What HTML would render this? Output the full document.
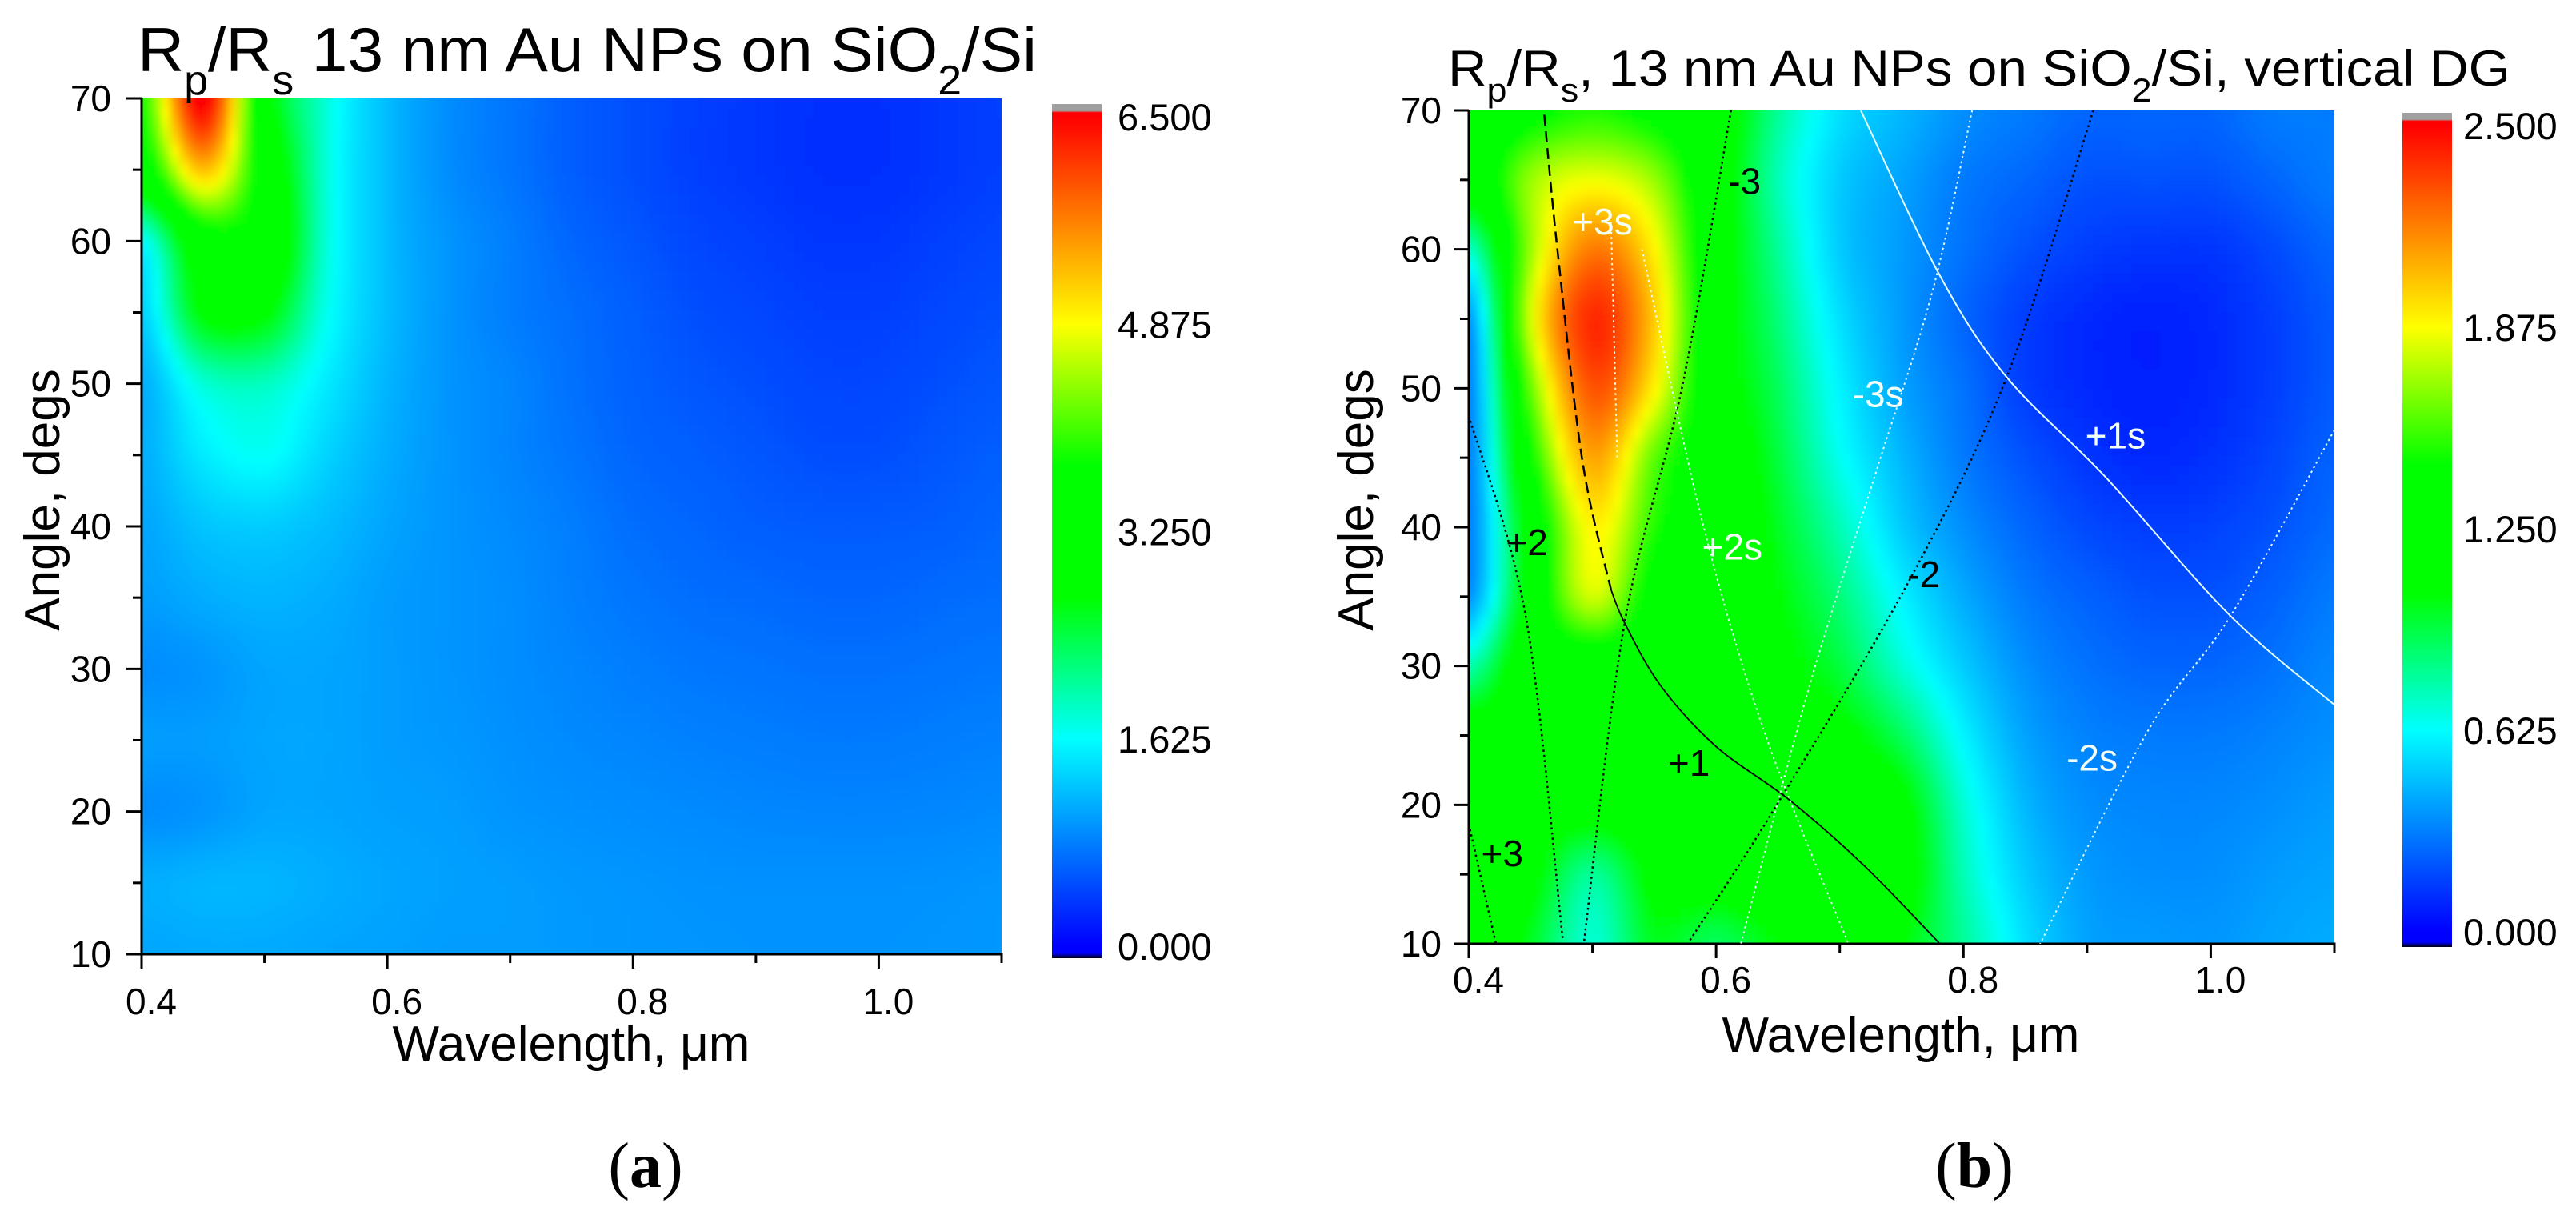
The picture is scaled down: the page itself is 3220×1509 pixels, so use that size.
<!DOCTYPE html>
<html><head><meta charset="utf-8">
<style>
html,body{margin:0;padding:0;background:#fff;}
svg{display:block;font-family:"Liberation Sans",Arial,sans-serif;}
</style></head>
<body>
<svg id="root" width="3220" height="1509" viewBox="0 0 3220 1509" xmlns="http://www.w3.org/2000/svg">
<defs>
<filter id="blurA" filterUnits="userSpaceOnUse" x="-200" y="-200" width="3600" height="1900"><feGaussianBlur stdDeviation="5"/></filter>
<filter id="blurB" filterUnits="userSpaceOnUse" x="-200" y="-200" width="3600" height="1900"><feGaussianBlur stdDeviation="5"/></filter>
<clipPath id="clipA"><rect x="177" y="123" width="1075" height="1070"/></clipPath>
<clipPath id="clipB"><rect x="1836" y="138" width="1082" height="1042"/></clipPath>
</defs>
</svg>
<script>
// ---------- data ----------
const wavelengths = [0.40,0.45,0.50,0.55,0.60,0.65,0.70,0.75,0.80,0.85,0.90,0.95,1.00,1.05,1.10];
const angles = [70,65,60,55,50,45,40,35,30,25,20,15,10];
const valuesA = [
[3.8,6.6,3.1,1.8,1.2,0.9,0.75,0.6,0.5,0.4,0.35,0.3,0.3,0.35,0.4],
[3.3,5.3,3.4,1.8,1.2,0.9,0.75,0.6,0.5,0.4,0.35,0.3,0.3,0.35,0.4],
[1.6,3.4,3.4,1.8,1.2,0.95,0.8,0.65,0.55,0.45,0.4,0.35,0.35,0.4,0.45],
[1.3,2.8,2.8,1.7,1.2,0.95,0.8,0.7,0.6,0.5,0.45,0.4,0.4,0.45,0.5],
[1.1,1.8,1.9,1.5,1.15,0.95,0.85,0.72,0.62,0.55,0.5,0.45,0.45,0.5,0.55],
[1.1,1.5,1.65,1.35,1.1,0.95,0.85,0.75,0.65,0.6,0.55,0.5,0.5,0.55,0.6],
[1.05,1.25,1.3,1.2,1.05,0.95,0.88,0.8,0.7,0.65,0.6,0.58,0.58,0.6,0.65],
[1.0,1.1,1.15,1.1,1.0,0.95,0.9,0.82,0.75,0.7,0.68,0.65,0.65,0.68,0.7],
[0.9,0.95,1.05,1.05,1.0,0.95,0.9,0.85,0.8,0.76,0.74,0.72,0.72,0.74,0.76],
[1.0,1.0,1.05,1.05,1.0,0.97,0.92,0.88,0.85,0.82,0.8,0.78,0.78,0.8,0.82],
[0.9,0.95,1.05,1.05,1.02,1.0,0.95,0.92,0.9,0.88,0.86,0.85,0.85,0.86,0.88],
[1.1,1.15,1.15,1.1,1.05,1.02,1.0,0.97,0.95,0.93,0.92,0.92,0.92,0.93,0.95],
[1.05,1.08,1.08,1.05,1.03,1.0,1.0,0.98,0.96,0.95,0.94,0.94,0.94,0.95,0.96]
];
const valuesB = [
[1.2,1.4,1.5,1.4,1.2,0.8,0.55,0.45,0.35,0.3,0.25,0.25,0.25,0.3,0.3],
[1.2,1.7,1.85,1.7,1.2,0.75,0.5,0.4,0.3,0.25,0.2,0.2,0.2,0.25,0.3],
[0.7,1.7,2.2,1.9,1.2,0.8,0.5,0.38,0.28,0.2,0.15,0.13,0.13,0.18,0.25],
[0.35,1.8,2.4,2.0,1.2,0.85,0.55,0.38,0.25,0.15,0.1,0.08,0.1,0.15,0.22],
[0.3,1.6,2.3,1.9,1.2,0.9,0.6,0.4,0.28,0.15,0.1,0.08,0.1,0.15,0.22],
[0.3,1.4,2.1,1.6,1.25,0.95,0.65,0.45,0.3,0.2,0.13,0.1,0.12,0.17,0.24],
[0.3,1.2,1.9,1.5,1.25,1.0,0.75,0.5,0.35,0.25,0.18,0.15,0.16,0.2,0.26],
[0.35,1.2,1.8,1.35,1.25,1.05,0.85,0.6,0.42,0.3,0.24,0.2,0.2,0.24,0.3],
[0.75,1.25,1.3,1.3,1.25,1.1,0.95,0.7,0.5,0.35,0.28,0.25,0.25,0.28,0.33],
[1.15,1.2,1.25,1.25,1.25,1.15,1.1,0.9,0.6,0.4,0.32,0.3,0.3,0.32,0.35],
[1.2,1.15,1.15,1.2,1.2,1.2,1.3,1.1,0.7,0.45,0.35,0.33,0.33,0.35,0.38],
[1.25,1.1,0.8,1.1,1.15,1.2,1.3,1.15,0.75,0.5,0.38,0.35,0.35,0.38,0.4],
[1.3,1.0,0.7,1.0,0.9,1.05,1.15,1.05,0.8,0.55,0.4,0.38,0.37,0.4,0.42]
];
const xTickValues = [0.4,0.6,0.8,1.0];
const xTickLabels = ["0.4","0.6","0.8","1.0"];
const xMinorTicks = [0.5,0.7,0.9,1.1];
const yTickValues = [10,20,30,40,50,60,70];
const yMinorTicks = [15,25,35,45,55,65];
const cbValuesA = [6.5,4.875,3.25,1.625,0];
const cbLabelsA = ["6.500","4.875","3.250","1.625","0.000"];
const cbValuesB = [2.5,1.875,1.25,0.625,0];
const cbLabelsB = ["2.500","1.875","1.250","0.625","0.000"];
// diffraction-order curves in panel b: [wavelength, angle]
const curvePlus1Dashed = [[0.461,69.7],[0.472,59.7],[0.492,44.7],[0.515,35.5]];
const curvePlus1 = [[0.515,35.5],[0.526,33.1],[0.555,28.6],[0.600,24.2],[0.660,20.3],[0.72,15.6],[0.781,10]];
const curvePlus2 = [[0.40,48],[0.446,33.6],[0.476,10.3]];
const curvePlus3 = [[0.40,18.6],[0.422,10]];
const curveMinus3 = [[0.612,70],[0.573,50.3],[0.526,33.1],[0.493,10]];
const curveMinus2 = [[0.905,70],[0.835,50.8],[0.754,35.8],[0.647,19.7],[0.577,10]];
const curvePlus1s = [[0.717,70],[0.781,58.1],[0.835,50.8],[0.915,43.6],[1.016,33.6],[1.10,27.2]];
const curveMinus2s = [[1.10,47],[1.016,33.6],[0.949,25.3],[0.862,10]];
const curveMinus3s = [[0.807,70],[0.775,57],[0.728,43.6],[0.674,28.1],[0.62,10]];
const curvePlus2s = [[0.54,60],[0.59,40],[0.64,25],[0.707,10]];
const curvePlus3s = [[0.515,62],[0.52,45]];
const orderLabels = ["+3s","-3","-3s","+1s","+2","+2s","-2","+1","-2s","+3"];
const orderLabelWl = [0.508,0.623,0.731,0.923,0.447,0.613,0.768,0.578,0.904,0.427];
const orderLabelAng = [62.0,64.9,49.6,46.6,38.9,38.6,36.6,23.0,23.4,16.5];
const orderLabelWhite = [true,false,true,true,false,true,false,false,true,false];

// ---------- helpers ----------
const NS = "http://www.w3.org/2000/svg";
const root = document.getElementById('root');
function el(tag, attrs, parent){const e=document.createElementNS(NS,tag);for(const k in attrs)e.setAttribute(k,attrs[k]);(parent||root).appendChild(e);return e;}
function cmap(t){
  t=Math.max(0,Math.min(1,t));
  const st=[[0,0,0,255],[0.25,0,255,255],[0.42,0,255,0],[0.58,0,255,0],[0.75,255,255,0],[1,255,0,0]];
  for(let i=1;i<st.length;i++){if(t<=st[i][0]){const a=st[i-1],b=st[i],f=(t-a[0])/(b[0]-a[0]||1);
    return `rgb(${Math.round(a[1]+(b[1]-a[1])*f)},${Math.round(a[2]+(b[2]-a[2])*f)},${Math.round(a[3]+(b[3]-a[3])*f)})`;}}
  return 'rgb(255,0,0)';
}
function makeScales(g){return {x:v=>g.x+(v-0.4)/0.7*g.w, y:v=>g.y+(70-v)/60*g.h};}
function cr(p0,p1,p2,p3,t){return 0.5*((2*p1)+(-p0+p2)*t+(2*p0-5*p1+4*p2-p3)*t*t+(-p0+3*p1-3*p2+p3)*t*t*t);}
function sampleGrid(vals,wl,ang){
  const nr=vals.length,nc=vals[0].length;
  const fj=Math.max(0,Math.min(nc-1,(wl-wavelengths[0])/(wavelengths[1]-wavelengths[0])));
  const fi=Math.max(0,Math.min(nr-1,(angles[0]-ang)/(angles[0]-angles[1])));
  const j=Math.min(nc-2,Math.floor(fj)),i=Math.min(nr-2,Math.floor(fi));
  const tx=fj-j,ty=fi-i;
  const gv=(a,b)=>vals[Math.max(0,Math.min(nr-1,a))][Math.max(0,Math.min(nc-1,b))];
  const rows=[];
  for(let k=-1;k<=2;k++)rows.push(cr(gv(i+k,j-1),gv(i+k,j),gv(i+k,j+1),gv(i+k,j+2),tx));
  return cr(rows[0],rows[1],rows[2],rows[3],ty);
}
function smoothPath(pts){
  if(pts.length<3){return 'M'+pts.map(p=>p[0].toFixed(1)+','+p[1].toFixed(1)).join(' L');}
  let d='M'+pts[0][0]+','+pts[0][1];
  for(let i=0;i<pts.length-1;i++){
    const p0=pts[Math.max(0,i-1)],p1=pts[i],p2=pts[i+1],p3=pts[Math.min(pts.length-1,i+2)];
    const c1=[p1[0]+(p2[0]-p0[0])/6,p1[1]+(p2[1]-p0[1])/6],c2=[p2[0]-(p3[0]-p1[0])/6,p2[1]-(p3[1]-p1[1])/6];
    d+=` C${c1[0]},${c1[1]} ${c2[0]},${c2[1]} ${p2[0]},${p2[1]}`;
  }
  return d;
}

function drawPanel(key, g, vals, vmax, cbVals, cbLabels){
  const s=makeScales(g);
  const heat=el('g',{'clip-path':`url(#clip${key})`});
  
  
  const cells=el('g',{filter:`url(#blur${key})`},heat);
  const step=12;
  for(let py=g.y-step;py<g.y+g.h+step;py+=step){
    for(let px=g.x-step;px<g.x+g.w+step;px+=step){
      const wl=0.4+(px+step/2-g.x)/g.w*0.7;
      const ang=70-(py+step/2-g.y)/g.h*60;
      const v=sampleGrid(vals,wl,ang);
      const r=el('rect',{x:px,y:py,width:step+0.6,height:step+0.6,fill:cmap(v/vmax)},cells);
      
      
    }
  }
  // axes
  const ax=el('g',{stroke:'#000','stroke-width':3,fill:'none'});
  
  
  el('line',{x1:g.x,y1:g.y,x2:g.x,y2:g.y+g.h+1.5},ax);
  el('line',{x1:g.x-1.5,y1:g.y+g.h,x2:g.x+g.w+1.5,y2:g.y+g.h},ax);
  xTickValues.forEach(v=>el('line',{x1:s.x(v),y1:g.y+g.h,x2:s.x(v),y2:g.y+g.h+18},ax));
  xMinorTicks.forEach(v=>el('line',{x1:s.x(v),y1:g.y+g.h,x2:s.x(v),y2:g.y+g.h+11},ax));
  yTickValues.forEach(v=>el('line',{x1:g.x,y1:s.y(v),x2:g.x-19,y2:s.y(v)},ax));
  yMinorTicks.forEach(v=>el('line',{x1:g.x,y1:s.y(v),x2:g.x-11,y2:s.y(v)},ax));
  xTickValues.forEach((v,i)=>{const t=el('text',{x:s.x(v)+12,y:g.xLabY,'font-size':46,'text-anchor':'middle',fill:'#000'});t.textContent=xTickLabels[i];
    
    });
  yTickValues.forEach(v=>{const t=el('text',{x:g.yLabX,y:s.y(v)+16,'font-size':46,'text-anchor':'end',fill:'#000'});t.textContent=String(v);
    
    });
  // colorbar
  const cb=g.cb, gid='grad'+key;
  const grad=el('linearGradient',{id:gid,x1:0,y1:1,x2:0,y2:0},root.querySelector('defs'));
  const yTop=cb.labTop,yBot=cb.labBot;
  const off=y=>((cb.y+cb.h-y)/cb.h);
  [[0,'#000010'],[0.006,'#0000ff'],[off(yBot),'#0000ff'],[off(yBot-(yBot-yTop)*0.25),'#00ffff'],[off(yBot-(yBot-yTop)*0.42),'#00ff00'],[off(yBot-(yBot-yTop)*0.58),'#00ff00'],[off(yBot-(yBot-yTop)*0.75),'#ffff00'],[off(yTop),'#ff0000'],[0.99,'#ff0000'],[0.992,'#a0a0a0'],[1,'#a0a0a0']]
    .forEach(s2=>el('stop',{offset:Math.max(0,Math.min(1,s2[0])),'stop-color':s2[1]},grad));
  const bar=el('rect',{x:cb.x,y:cb.y,width:cb.w,height:cb.h,fill:`url(#${gid})`});
  
  
  cbVals.forEach((v,i)=>{const y=yBot-(v/cbVals[0])*(yBot-yTop);
    const t=el('text',{x:cb.labX,y:y+17,'font-size':47,fill:'#000'});t.textContent=cbLabels[i];
    
    });
  return s;
}

const gA={x:177,y:123,w:1075,h:1070,xLabY:1268,yLabX:139,cb:{x:1315,y:130,w:62,h:1068,labX:1397,labTop:146,labBot:1183}};
const gB={x:1836,y:138,w:1082,h:1042,xLabY:1241,yLabX:1802,cb:{x:3003,y:141,w:62,h:1043,labX:3079,labTop:157,labBot:1165}};
drawPanel('A',gA,valuesA,6.5,cbValuesA,cbLabelsA);
const sB=drawPanel('B',gB,valuesB,2.5,cbValuesB,cbLabelsB);

// curves in panel b
const curves=el('g',{'clip-path':'url(#clipB)',fill:'none'});


function curve(data,name,stroke,dash,w){
  const p=el('path',{d:smoothPath(data.map(q=>[sB.x(q[0]),sB.y(q[1])])),stroke:stroke,'stroke-width':w,'stroke-dasharray':dash},curves);
  
  
}
curve(curvePlus1Dashed,'order-plus1-dashed-curve','#000','14 7',2.5);
curve(curvePlus1,'order-plus1-curve','#000','none',1.8);
curve(curvePlus2,'order-plus2-curve','#000','2.5 4',2.5);
curve(curvePlus3,'order-plus3-curve','#000','2.5 4',2.5);
curve(curveMinus3,'order-minus3-curve','#000','2.5 4',2.5);
curve(curveMinus2,'order-minus2-curve','#000','2.5 4',2.5);
curve(curvePlus1s,'order-plus1s-curve','#e8ffff','none',2);
curve(curveMinus2s,'order-minus2s-curve','#e8ffff','2.5 4',2);
curve(curveMinus3s,'order-minus3s-curve','#e8ffff','2.5 4',2);
curve(curvePlus2s,'order-plus2s-curve','#e8ffff','2.5 4',2);
curve(curvePlus3s,'order-plus3s-curve','#ffffe0','2.5 4',2);
orderLabels.forEach((lab,i)=>{
  const t=el('text',{x:sB.x(orderLabelWl[i]),y:sB.y(orderLabelAng[i])+16,'font-size':46,'text-anchor':'middle',fill:orderLabelWhite[i]?'#f4fff8':'#000'});
  t.textContent=lab;
  
  
});
</script>
<script>
// static text (titles, axis titles, panel letters)
(function(){
const NS="http://www.w3.org/2000/svg",root=document.getElementById('root');
function txt(html,attrs,name){const t=document.createElementNS(NS,'text');for(const k in attrs)t.setAttribute(k,attrs[k]);t.innerHTML=html;
  
  
  root.appendChild(t);return t;}
txt('R<tspan font-size="52" dy="29">p</tspan><tspan dy="-29">/R</tspan><tspan font-size="52" dy="29">s</tspan><tspan dy="-29"> 13 nm Au NPs on SiO</tspan><tspan font-size="52" dy="29">2</tspan><tspan dy="-29">/Si</tspan>',
  {x:172,y:89,'font-size':78,fill:'#000',textLength:1124,lengthAdjust:'spacingAndGlyphs'},'chart-title-a');
txt('R<tspan font-size="42" dy="20">p</tspan><tspan dy="-20">/R</tspan><tspan font-size="42" dy="20">s</tspan><tspan dy="-20">, 13 nm Au NPs on SiO</tspan><tspan font-size="42" dy="20">2</tspan><tspan dy="-20">/Si, vertical DG</tspan>',
  {x:1810,y:107,'font-size':63,fill:'#000',textLength:1328,lengthAdjust:'spacingAndGlyphs'},'chart-title-b');
txt('Wavelength, μm',{x:714,y:1326,'font-size':62,'text-anchor':'middle',fill:'#000'},'x-axis-title-a');
txt('Wavelength, μm',{x:2376,y:1315,'font-size':62,'text-anchor':'middle',fill:'#000'},'x-axis-title-b');
txt('Angle, degs',{x:0,y:0,'font-size':62,'text-anchor':'middle',fill:'#000',transform:'translate(74,625) rotate(-90)'},'y-axis-title-a');
txt('Angle, degs',{x:0,y:0,'font-size':62,'text-anchor':'middle',fill:'#000',transform:'translate(1716,625) rotate(-90)'},'y-axis-title-b');
txt('(<tspan font-weight="bold">a</tspan>)',{x:807,y:1484,'font-size':80,'text-anchor':'middle',fill:'#000','font-family':'"Liberation Serif",serif'},'panel-label-a');
txt('(<tspan font-weight="bold">b</tspan>)',{x:2468,y:1484,'font-size':80,'text-anchor':'middle',fill:'#000','font-family':'"Liberation Serif",serif'},'panel-label-b');
})();
</script>
</body></html>
